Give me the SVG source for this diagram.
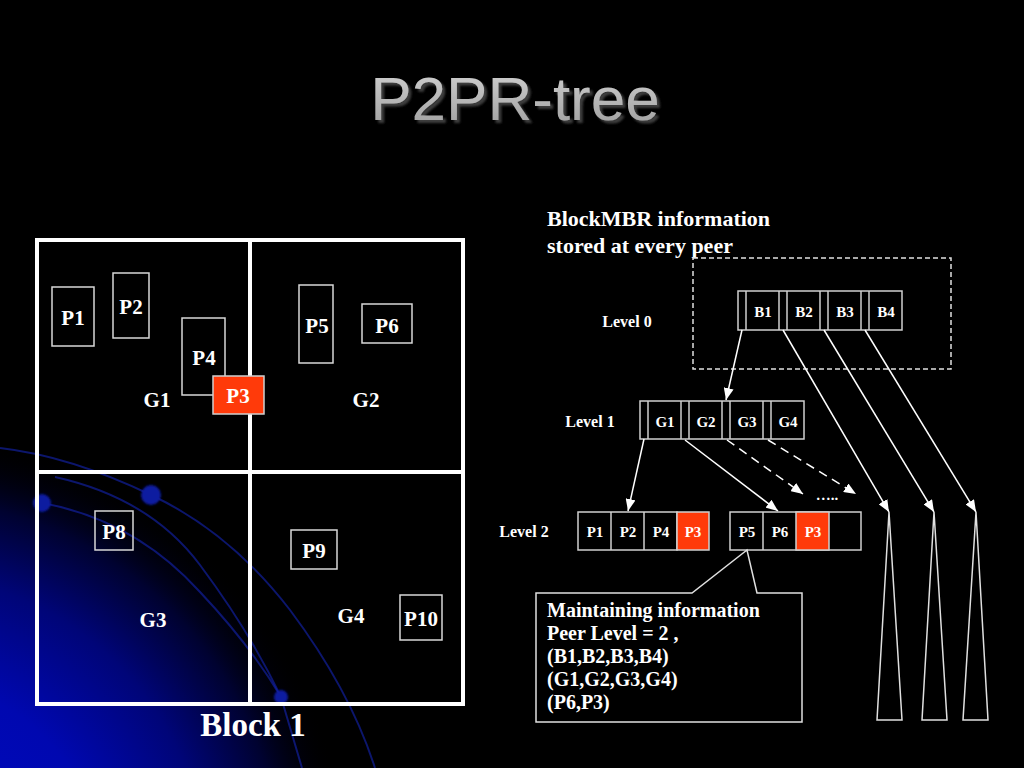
<svg xmlns="http://www.w3.org/2000/svg" width="1024" height="768" viewBox="0 0 1024 768">
  <defs>
    <radialGradient id="glow" cx="-100" cy="880" r="450" gradientUnits="userSpaceOnUse">
      <stop offset="0" stop-color="#000cc8"/>
      <stop offset="0.45" stop-color="#0008b0"/>
      <stop offset="0.68" stop-color="#000578"/>
      <stop offset="0.85" stop-color="#000230"/>
      <stop offset="1" stop-color="#000000" stop-opacity="0"/>
    </radialGradient>
    <linearGradient id="titleFill" x1="0" y1="0" x2="0" y2="1">
      <stop offset="0" stop-color="#d4d4d4"/>
      <stop offset="1" stop-color="#9c9c9c"/>
    </linearGradient>
    <filter id="shadow" x="-10%" y="-30%" width="120%" height="160%">
      <feDropShadow dx="3" dy="3" stdDeviation="1" flood-color="#3c3c3c" flood-opacity="1"/>
    </filter>
    <filter id="soft" x="-50%" y="-50%" width="200%" height="200%">
      <feGaussianBlur stdDeviation="1.2"/>
    </filter>
    <marker id="arrow" viewBox="0 0 12 10" refX="12" refY="5" markerWidth="12" markerHeight="10" markerUnits="userSpaceOnUse" orient="auto">
      <path d="M0,0 L12,5 L0,10 z" fill="#ffffff"/>
    </marker>
    <style>
      .serif { font-family: "Liberation Serif", "Times New Roman", serif; font-weight: bold; fill: #ffffff; }
      .lbl { font-size: 21px; text-anchor: middle; }
      .cell { font-size: 15px; text-anchor: middle; }
      .lvl { font-size: 16px; text-anchor: middle; }
      .info { font-size: 20px; }
      .cap { font-size: 22px; }
      .pbox { fill: none; stroke: #d8d8d8; stroke-width: 1.5; }
      .grid { fill: none; stroke: #ffffff; stroke-width: 4; }
      .arr { fill: none; stroke: #cfcfcf; stroke-width: 1.5; }
      .red { fill: #ff3a0a; stroke: #cfcfcf; stroke-width: 1.5; }
      .conn { fill: none; stroke: #ffffff; stroke-width: 1.5; }
      .dash { stroke-dasharray: 9 6; }
      .arc { fill: none; stroke: #1424b4; stroke-width: 2; stroke-opacity: 0.6; }
      .dot { fill: #0a1aa0; }
      .tri { fill: none; stroke: #e0e0e0; stroke-width: 1.5; }
    </style>
  </defs>

  <rect x="0" y="0" width="1024" height="768" fill="#000000"/>
  <rect x="0" y="420" width="360" height="348" fill="url(#glow)"/>
  <g id="background-arcs">
    <path class="arc" d="M0,448 Q70,456 151,495 Q230,532 290,610 Q350,690 375,768"/>
    <path class="arc" d="M55,477 Q150,498 200,565 Q250,632 281,697 L302,768"/>
    <path class="arc" d="M42,503 Q135,520 200,592 Q250,645 281,697"/>
    <circle class="dot" cx="151" cy="495" r="10" filter="url(#soft)"/>
    <circle class="dot" cx="42" cy="503" r="9" filter="url(#soft)"/>
    <circle class="dot" cx="281" cy="697" r="7" filter="url(#soft)"/>
  </g>

  <g id="title">
    <text x="515" y="120" font-family="Liberation Sans, Arial, sans-serif" font-size="62" text-anchor="middle" fill="url(#titleFill)" filter="url(#shadow)">P2PR-tree</text>
  </g>

  <g id="block1">
    <rect class="grid" x="37" y="240" width="426" height="464"/>
    <line class="grid" x1="250" y1="240" x2="250" y2="704"/>
    <line class="grid" x1="37" y1="472" x2="463" y2="472"/>
    <text class="serif" x="253" y="736" font-size="33" text-anchor="middle">Block 1</text>
  </g>

  <g id="G1"><text class="serif lbl" x="157" y="407">G1</text></g>
  <g id="G2"><text class="serif lbl" x="366" y="407">G2</text></g>
  <g id="G3"><text class="serif lbl" x="153" y="627">G3</text></g>
  <g id="G4"><text class="serif lbl" x="351" y="623">G4</text></g>

  <g id="P1"><rect class="pbox" x="52" y="287" width="42" height="59"/><text class="serif lbl" x="73" y="325">P1</text></g>
  <g id="P2"><rect class="pbox" x="113" y="273" width="36" height="65"/><text class="serif lbl" x="131" y="314">P2</text></g>
  <g id="P4"><rect class="pbox" x="182" y="318" width="43" height="77"/><text class="serif lbl" x="204" y="365">P4</text></g>
  <g id="P3"><rect class="red" x="213" y="376" width="51" height="38"/><text class="serif lbl" x="238" y="403">P3</text></g>
  <g id="P5"><rect class="pbox" x="299" y="285" width="34" height="78"/><text class="serif lbl" x="317" y="333">P5</text></g>
  <g id="P6"><rect class="pbox" x="362" y="304" width="50" height="39"/><text class="serif lbl" x="387" y="333">P6</text></g>
  <g id="P8"><rect class="pbox" x="95" y="511" width="38" height="39"/><text class="serif lbl" x="114" y="539">P8</text></g>
  <g id="P9"><rect class="pbox" x="291" y="530" width="46" height="39"/><text class="serif lbl" x="314" y="558">P9</text></g>
  <g id="P10"><rect class="pbox" x="400" y="595" width="42" height="45"/><text class="serif lbl" x="421" y="626">P10</text></g>

  <g id="blockmbr-caption">
    <text class="serif cap" x="547" y="226">BlockMBR information</text>
    <text class="serif cap" x="547" y="253">stored at every peer</text>
  </g>

  <g id="level0-region">
    <rect x="693" y="258" width="258" height="111" fill="none" stroke="#e0e0e0" stroke-width="1.5" stroke-dasharray="5 3"/>
  </g>

  <g id="level-labels">
    <text class="serif lvl" x="627" y="327">Level 0</text>
    <text class="serif lvl" x="590" y="427">Level 1</text>
    <text class="serif lvl" x="524" y="537">Level 2</text>
  </g>

  <g id="level0-node">
    <rect class="arr" x="738" y="291" width="164" height="39"/>
    <line class="arr" x1="746" y1="291" x2="746" y2="330"/>
    <line class="arr" x1="779" y1="291" x2="779" y2="330"/>
    <line class="arr" x1="787" y1="291" x2="787" y2="330"/>
    <line class="arr" x1="820" y1="291" x2="820" y2="330"/>
    <line class="arr" x1="828" y1="291" x2="828" y2="330"/>
    <line class="arr" x1="861" y1="291" x2="861" y2="330"/>
    <line class="arr" x1="869" y1="291" x2="869" y2="330"/>
    <text class="serif cell" x="763" y="317">B1</text>
    <text class="serif cell" x="804" y="317">B2</text>
    <text class="serif cell" x="845" y="317">B3</text>
    <text class="serif cell" x="886" y="317">B4</text>
  </g>

  <g id="level1-node">
    <rect class="arr" x="640" y="401" width="164" height="38"/>
    <line class="arr" x1="648" y1="401" x2="648" y2="439"/>
    <line class="arr" x1="681" y1="401" x2="681" y2="439"/>
    <line class="arr" x1="689" y1="401" x2="689" y2="439"/>
    <line class="arr" x1="722" y1="401" x2="722" y2="439"/>
    <line class="arr" x1="730" y1="401" x2="730" y2="439"/>
    <line class="arr" x1="763" y1="401" x2="763" y2="439"/>
    <line class="arr" x1="771" y1="401" x2="771" y2="439"/>
    <text class="serif cell" x="665" y="427">G1</text>
    <text class="serif cell" x="706" y="427">G2</text>
    <text class="serif cell" x="747" y="427">G3</text>
    <text class="serif cell" x="788" y="427">G4</text>
  </g>

  <g id="level2-node-a">
    <rect class="arr" x="578" y="512" width="99" height="38"/>
    <line class="arr" x1="611" y1="512" x2="611" y2="550"/>
    <line class="arr" x1="644" y1="512" x2="644" y2="550"/>
    <rect class="red" x="677" y="512" width="32" height="38"/>
    <text class="serif cell" x="595" y="537">P1</text>
    <text class="serif cell" x="628" y="537">P2</text>
    <text class="serif cell" x="661" y="537">P4</text>
    <text class="serif cell" x="693" y="537">P3</text>
  </g>

  <g id="level2-node-b">
    <rect class="arr" x="730" y="512" width="131" height="38"/>
    <line class="arr" x1="763" y1="512" x2="763" y2="550"/>
    <rect class="red" x="796" y="512" width="33" height="38"/>
    <text class="serif cell" x="747" y="537">P5</text>
    <text class="serif cell" x="780" y="537">P6</text>
    <text class="serif cell" x="813" y="537">P3</text>
  </g>

  <g id="more-dots">
    <text class="serif cell" x="827" y="500">…..</text>
  </g>

  <g id="subtrees">
    <polygon class="tri" points="889,512 902,720 877,720"/>
    <polygon class="tri" points="934,512 947,720 922,720"/>
    <polygon class="tri" points="976,512 988,720 963,720"/>
  </g>

  <g id="callout">
    <polygon points="536,593 692,593 747,550 757,593 802,593 802,722 536,722" fill="#000000" stroke="#e0e0e0" stroke-width="1.5"/>
    <text class="serif info" x="547" y="617">Maintaining information</text>
    <text class="serif info" x="547" y="640">Peer Level = 2 ,</text>
    <text class="serif info" x="547" y="663">(B1,B2,B3,B4)</text>
    <text class="serif info" x="547" y="686">(G1,G2,G3,G4)</text>
    <text class="serif info" x="547" y="709">(P6,P3)</text>
  </g>

  <g id="connectors">
    <line class="conn" x1="742" y1="330" x2="726" y2="400" marker-end="url(#arrow)"/>
    <line class="conn" x1="783" y1="330" x2="889" y2="512" marker-end="url(#arrow)"/>
    <line class="conn" x1="824" y1="330" x2="934" y2="512" marker-end="url(#arrow)"/>
    <line class="conn" x1="865" y1="330" x2="976" y2="512" marker-end="url(#arrow)"/>
    <line class="conn" x1="644" y1="439" x2="628" y2="511" marker-end="url(#arrow)"/>
    <line class="conn" x1="685" y1="440" x2="778" y2="511" marker-end="url(#arrow)"/>
    <line class="conn dash" x1="727" y1="440" x2="803" y2="494" marker-end="url(#arrow)"/>
    <line class="conn dash" x1="768" y1="440" x2="856" y2="494" marker-end="url(#arrow)"/>
  </g>
</svg>
